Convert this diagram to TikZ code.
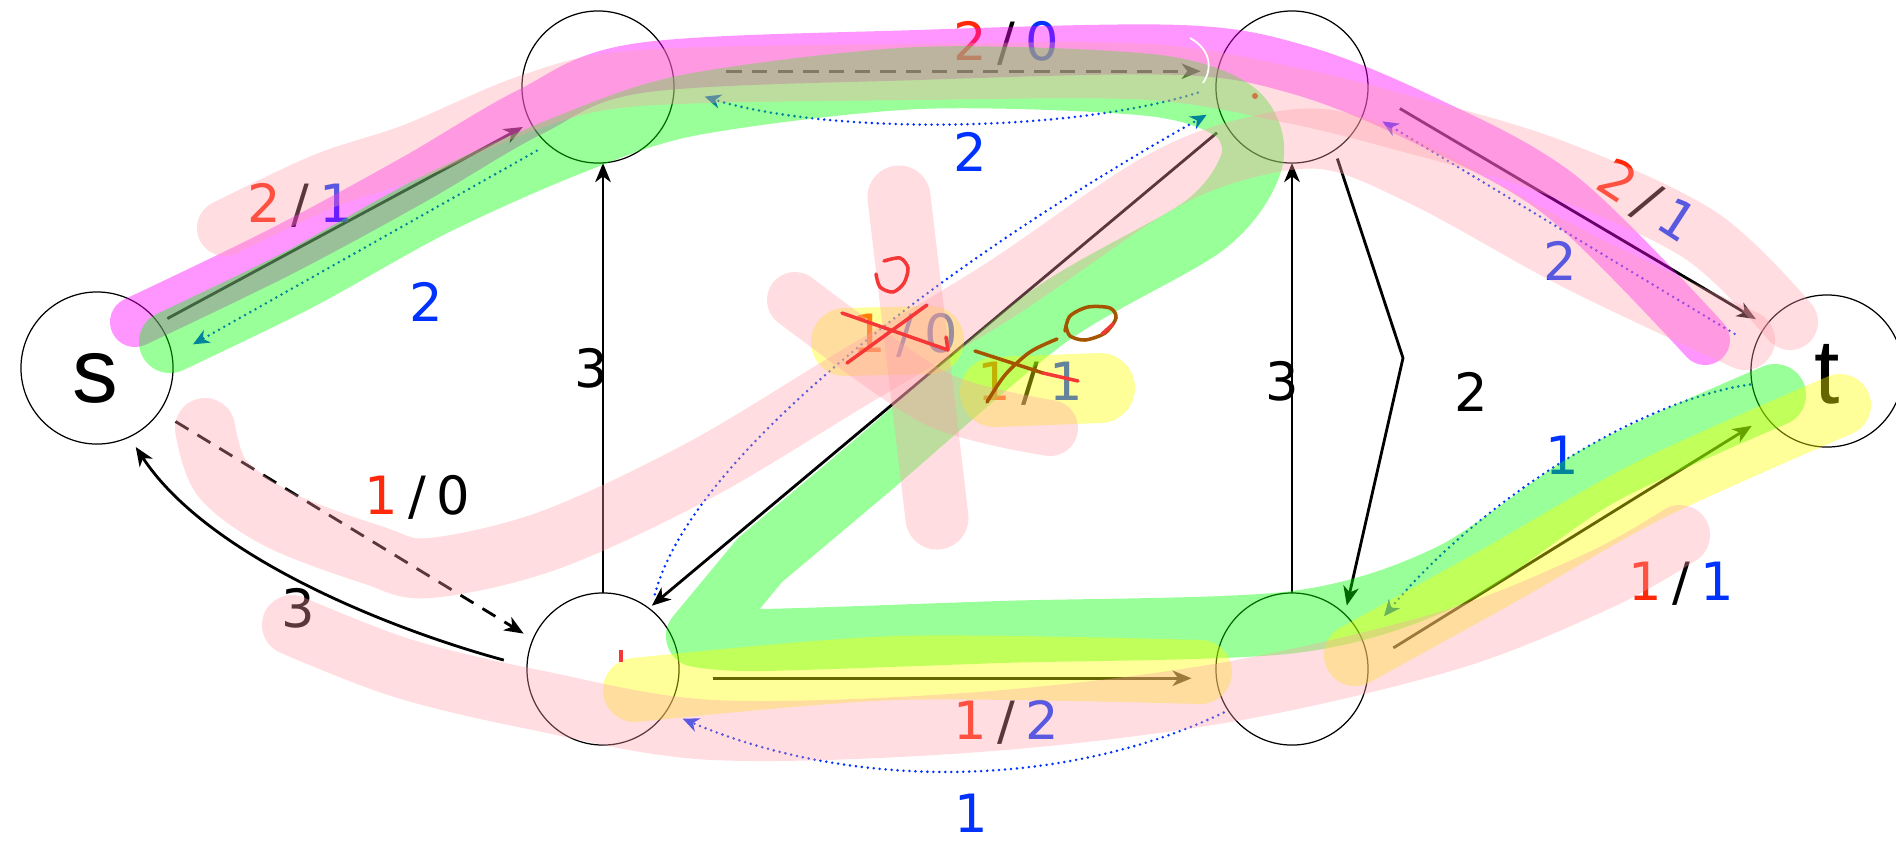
\documentclass[tikz,border=0pt]{standalone}
\usepackage{fontspec}
\setmainfont{DejaVu Sans}
\newfontfamily\stfont{Liberation Sans}
\usetikzlibrary{arrows.meta}
\definecolor{lr}{RGB}{255,40,10}
\definecolor{lb}{RGB}{0,50,255}
\definecolor{hm}{RGB}{255,0,255}
\definecolor{hg}{RGB}{0,255,0}
\definecolor{hy}{RGB}{255,255,0}
\definecolor{hp}{RGB}{255,160,170}
\definecolor{mk}{RGB}{245,55,55}
\definecolor{br}{RGB}{165,85,0}
\definecolor{dotor}{RGB}{205,120,70}
\newcommand\flow[6]{{\color{#1}#2}\kern3pt{\color{#3}#4}\kern3pt{\color{#5}#6}}
\begin{document}
\begin{tikzpicture}[x=0.01cm,y=-0.01cm,
  vtx/.style={circle,draw,line width=0.35pt,minimum size=1.52cm,inner sep=0pt,outer sep=0pt},
  lbl/.style={font=\fontsize{15}{18}\selectfont,inner sep=0pt,text height=11pt,text depth=0pt},
  big/.style={font=\stfont\fontsize{26}{30}\selectfont,inner sep=0pt},
  edge/.style={line width=0.8pt,-{Stealth[length=5.4pt,width=4.4pt,inset=1.6pt]}},
  fdash/.style={dash pattern=on 4.3pt off 3pt},
  resid/.style={lb,line width=0.8pt,dash pattern=on 0pt off 1.7pt,line cap=round,-{Stealth[length=4.6pt,width=4pt,inset=1.4pt]}},
  hl/.style={line cap=round,line join=round},
  handmark/.style={line width=1pt,line cap=round,line join=round}]
\useasboundingbox (0,0) rectangle (1896,844);
\fill[white] (0,0) rectangle (1896,844);
% vertices
\node[vtx] (s) at (97,368) {};
\node[vtx] (A) at (598,87) {};
\node[vtx] (B) at (1292,87) {};
\node[vtx] (t) at (1827,371) {};
\node[vtx] (C) at (603,669) {};
\node[vtx] (D) at (1292,669) {};
\node[big] (sl) at (95,378) {s};
\node[big] (tl) at (1827,374) {t};
% edges
\draw[edge,shorten <=0.1cm,shorten >=0.09cm] (s.36) -- (A.208);
\draw[resid,shorten <=0.13cm,shorten >=0.24cm] (A.229) -- (s.9);
\draw[edge,fdash,shorten <=0.54cm,shorten >=0.17cm] (A.12) -- (B.168);
\draw[resid,shorten <=0.19cm,shorten >=0.32cm] (B.180) .. controls +(-150,47) and +(150,47) .. (A.0);
\draw[edge] (C.north) -- (C.north |- A.south);
\draw[edge] (D.north) -- (B.south);
\coordinate (kBD) at (1403,358);
\draw[edge,shorten <=0.09cm,shorten >=0.09cm] (B.-56) -- (kBD) -- (D.46);
\draw[edge,shorten <=0.12cm,shorten >=0.04cm] (B.210) -- (C.53);
\draw[resid,shorten <=0.16cm,shorten >=0.14cm] (C.51) .. controls (690,460) and (930,270) .. (B.196);
\draw[edge,fdash,shorten <=0.19cm,shorten >=0.11cm] (s.-35.5) -- (C.157);
\draw[edge,shorten <=0.24cm,shorten >=0.12cm] (C.178) .. controls (400,632) and (210,560) .. (s.295);
\draw[edge,shorten <=0.34cm,shorten >=0.25cm] (C.-7) -- (D.187);
\draw[resid,shorten <=0.05cm,shorten >=0.18cm] (D.213) .. controls (1060,790) and (850,790) .. (C.-34);
\draw[edge,shorten <=0.3cm,shorten >=0.17cm] (D.4) -- (t.217);
\draw[resid,shorten <=0.02cm,shorten >=0.33cm] (t.190) .. controls (1640,400) and (1480,500) .. (D.21);
\draw[edge,shorten <=0.37cm,shorten >=0.12cm] (B.-2.5) -- (t.143);
\draw[resid,shorten <=0.24cm,shorten >=0.21cm] (t.161) -- (B.-18.6);
% labels
\node[lbl] (fSA) at (300,203) {\flow{lr}{2}{black}{/}{lb}{1}};
\node[lbl] (rSA) at (426,302) {\color{lb}2};
\node[lbl] (fAB) at (1006,41) {\flow{lr}{2}{black}{/}{lb}{0}};
\node[lbl] (rBA) at (970,152) {\color{lb}2};
\node[lbl] (cCA) at (591,368) {3};
\node[lbl] (cDB) at (1282,381) {3};
\node[lbl] (cBD) at (1471,392) {2};
\node[lbl] (fBCold) at (905,333) {\flow{lr}{1}{lb}{/}{lb}{0}};
\node[lbl] (fCBold) at (1030,381) {\flow{lr}{1}{black}{/}{lb}{1}};
\node[lbl] (fsC) at (417,495) {\flow{lr}{1}{black}{/}{black}{0}};
\node[lbl] (cCs) at (298,608) {3};
\node[lbl] (fCD) at (1006,720) {\flow{lr}{1}{black}{/}{lb}{2}};
\node[lbl] (rDC) at (971,813) {\color{lb}1};
\node[lbl] (rtD) at (1562,455) {\color{lb}1};
\node[lbl] (fDt) at (1681,581) {\flow{lr}{1}{black}{/}{lb}{1}};
\node[lbl,rotate=-33] (fBt) at (1648,200) {\flow{lr}{2}{black}{/}{lb}{1}};
\node[lbl] (rtB) at (1560,261) {\color{lb}2};
% highlighter strokes
\begin{scope}[hl]
\draw[hm,draw opacity=0.41,line width=0.5cm] plot[smooth,tension=0.55] coordinates {(135,322) (280,252) (413,180) (530,112) (640,68) (918,55) (1180,50) (1300,70) (1420,118) (1560,195) (1705,340)};
\draw[hg,draw opacity=0.4,line width=0.62cm] plot[smooth,tension=0.5] coordinates {(170,342) (298,280) (432,206) (566,146) (690,105) (918,78) (1150,85) (1235,112) (1252,160) (1205,225) (1048,317) (867,470) (760,560)} -- plot[smooth,tension=0.5] coordinates {(697,636) (760,640) (1000,632) (1294,622) (1450,575) (1600,475) (1775,395)};
\draw[hy,draw opacity=0.4,line width=0.64cm] plot[smooth] coordinates {(635,690) (896,668) (1200,672)};
\draw[hy,draw opacity=0.4,line width=0.62cm] plot[smooth] coordinates {(1355,655) (1500,575) (1650,490) (1840,405)};
\draw[hy,draw opacity=0.4,line width=0.68cm] (845,342) -- (930,340);
\draw[hy,draw opacity=0.4,line width=0.7cm] (995,392) -- (1100,388);
\draw[hp,draw opacity=0.35,line width=0.56cm] plot[smooth,tension=0.55] coordinates {(225,228) (324,181) (414,151) (530,102) (640,78) (918,72) (1150,72) (1290,95) (1400,122) (1550,166) (1700,235) (1790,322)};
\draw[hp,draw opacity=0.35,line width=0.6cm] plot[smooth,tension=0.55] coordinates {(205,428) (222,478) (280,520) (373,555) (430,568) (550,540) (700,470) (850,380) (1000,290) (1150,188) (1240,150) (1330,140) (1430,180) (1580,262) (1745,340)};
\draw[hp,draw opacity=0.35,line width=0.6cm] plot[smooth,tension=0.55] coordinates {(292,625) (402,668) (536,700) (714,730) (979,722) (1228,692) (1450,640) (1600,580) (1680,535)};
\draw[hp,draw opacity=0.35,line width=0.63cm] (899,197) -- (937,518);
\draw[hp,draw opacity=0.35,line width=0.56cm] plot[smooth] coordinates {(795,300) (935,398) (1050,428)};
\end{scope}
% hand-drawn corrections
\draw[mk,handmark] (842,313) -- (948,350) -- (946,337);
\draw[mk,handmark] (847,363) -- (927,305);
\draw[mk,handmark] plot[smooth] coordinates {(884,261) (900,258) (908,268) (904,283) (893,292) (880,287) (876,274)};
\draw[br,handmark] (975,351) -- (1043,373);
\draw[mk,handmark] (1043,373) -- (1078,381);
\draw[br,handmark] plot[smooth] coordinates {(987,402) (1005,375) (1030,352) (1057,339)};
\draw[br,handmark] plot[smooth] coordinates {(1065,331) (1070,316) (1088,307) (1110,308) (1116,318) (1105,333) (1085,340) (1070,336) (1066,326)};
\draw[mk,handmark] (1113,324) -- (1102,334);
\draw[mk,line width=1.1pt] (621,650) -- (621,662);
\fill[dotor] (1255,96) circle (3);
\draw[white,line width=0.5pt] (1190,38) .. controls (1212,50) and (1212,70) .. (1203,83);
\end{tikzpicture}
\end{document}
